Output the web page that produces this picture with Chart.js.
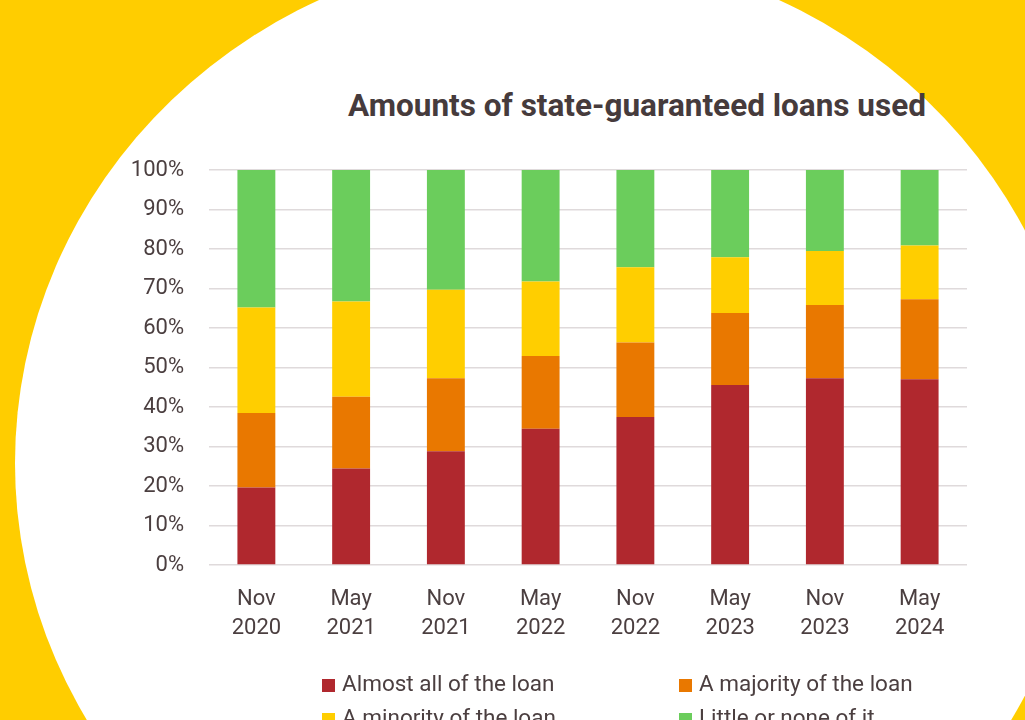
<!DOCTYPE html>
<html>
<head>
<meta charset="utf-8">
<script src="https://cdn.jsdelivr.net/npm/chart.js@4.4.1/dist/chart.umd.min.js"></script>
<style>
  body {
    margin: 0;
    width: 1025px;
    height: 720px;
    overflow: hidden;
    background: #ffcd00;
    position: relative;
    font-family: Roboto, "Noto Sans", sans-serif;
  }
  /* big white disc behind the chart */
  #disc {
    position: absolute;
    left: 15px;
    top: -50px;
    width: 1068px;
    height: 1026px;
    border-radius: 50%;
    background: #fff;
  }
  #title {
    position: absolute;
    left: 287px;
    top: 90px;
    width: 700px;
    margin: 0;
    text-align: center;
    font-size: 31.5px;
    line-height: 31px;
    font-weight: 700;
    color: #463b3c;
  }
  #chart {
    position: absolute;
    left: 0;
    top: 0;
  }
  #legend {
    position: absolute;
    left: 322px;
    top: 666px;
    display: grid;
    grid-template-columns: 357px 320px;
    font-size: 22.5px;
    line-height: 34px;
    color: #4b3f40;
  }
  #legend span.box {
    display: inline-block;
    width: 13px;
    height: 13px;
    margin-right: 7px;
    vertical-align: -1px;
  }
</style>
</head>
<body>
<div id="disc"></div>
<h1 id="title">Amounts of state-guaranteed loans used</h1>
<canvas id="chart" width="1025" height="720"></canvas>
<div id="legend"></div>

<script>
// Survey waves on the x axis
const periods = [
    ["Nov", "2020"], ["May", "2021"], ["Nov", "2021"], ["May", "2022"],
    ["Nov", "2022"], ["May", "2023"], ["Nov", "2023"], ["May", "2024"]
];

// Share of firms (%) by how much of their loan they used
const almostAll = [19.6, 24.4, 28.8, 34.5, 37.5, 45.6, 47.3, 47.0];
const majority  = [18.9, 18.2, 18.5, 18.4, 18.8, 18.2, 18.5, 20.3];
const minority  = [26.7, 24.1, 22.4, 18.9, 19.1, 14.1, 13.7, 13.6];
const littleOrNone = [34.8, 33.3, 30.3, 28.2, 24.6, 22.1, 20.5, 19.1];

const yTicks = [0, 10, 20, 30, 40, 50, 60, 70, 80, 90, 100];

const textColor = '#4b3f40';
const gridColor = '#dfdadb';

const seriesDefs = [
    { label: 'Almost all of the loan', data: almostAll, color: '#b0282e' },
    { label: 'A majority of the loan', data: majority, color: '#e97800' },
    { label: 'A minority of the loan', data: minority, color: '#ffce00' },
    { label: 'Little or none of it', data: littleOrNone, color: '#6bcd5c' }
];

const chartData = {
    labels: periods,
    datasets: seriesDefs.map(s => ({
        label: s.label,
        data: s.data,
        backgroundColor: s.color,
        borderWidth: 0,
        categoryPercentage: 1.0,
        barPercentage: 0.4
    }))
};

Chart.defaults.font.family = 'Roboto, "Noto Sans", sans-serif';
Chart.defaults.color = textColor;

const chart = new Chart(document.getElementById('chart').getContext('2d'), {
    type: 'bar',
    data: chartData,
    options: {
        responsive: false,
        animation: false,
        layout: {
            padding: { left: 129, right: 58, top: 170, bottom: 75 }
        },
        plugins: {
            legend: { display: false },
            title: { display: false },
            tooltip: { enabled: false }
        },
        scales: {
            x: {
                stacked: true,
                grid: { display: false },
                border: { display: false },
                ticks: {
                    padding: 12,
                    maxRotation: 0,
                    font: { size: 22, lineHeight: 1.32 },
                    color: textColor
                },
                afterFit: (axis) => { axis.height = 80; }
            },
            y: {
                stacked: true,
                min: 0,
                max: 100,
                afterBuildTicks: (axis) => {
                    axis.ticks = yTicks.map(v => ({ value: v }));
                },
                grid: {
                    color: gridColor,
                    lineWidth: 1.5,
                    drawTicks: false
                },
                border: { display: false },
                ticks: {
                    padding: 25,
                    font: { size: 22 },
                    color: textColor,
                    callback: (v) => v + '%'
                },
                afterFit: (axis) => { axis.width = 80; }
            }
        }
    }
});

// Legend built from the chart's own datasets, laid out in two columns
const legendEl = document.getElementById('legend');
chart.data.datasets.forEach(ds => {
    const item = document.createElement('div');
    const box = document.createElement('span');
    box.className = 'box';
    box.style.background = ds.backgroundColor;
    item.appendChild(box);
    item.appendChild(document.createTextNode(ds.label));
    legendEl.appendChild(item);
});
</script>
</body>
</html>
